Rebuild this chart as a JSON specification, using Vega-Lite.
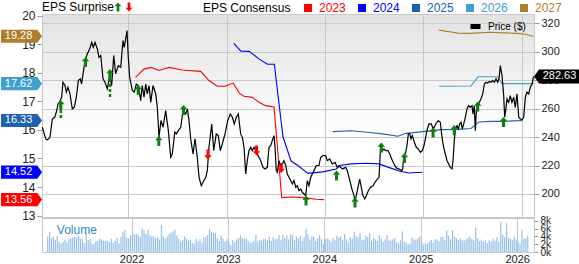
{
"$schema": "https://vega.github.io/schema/vega-lite/v6.json",
"padding": {"top": 2, "left": 0, "right": 0, "bottom": 0},
"autosize": {"type": "pad"},
"bounds": "flush",
"spacing": 1,
"config": {
  "font": "Liberation Sans",
  "view": {"stroke": "#c8c8c8"},
  "axis": {"gridColor": "#c8c8c8", "tickColor": "#9a9a9a", "labelColor": "#222222", "domain": false, "labelOverlap": false, "labelFlush": false, "labelBound": false}
},
"datasets": {
"price": [
{"t":2021.126,"p":246.9},{"t":2021.161,"p":238.7},{"t":2021.177,"p":238.0},{"t":2021.204,"p":239.8},{"t":2021.228,"p":252.7},{"t":2021.252,"p":253.9},{"t":2021.268,"p":257.4},{"t":2021.286,"p":263.3},{"t":2021.306,"p":265.1},{"t":2021.323,"p":268.0},{"t":2021.336,"p":278.5},{"t":2021.357,"p":276.2},{"t":2021.370,"p":271.5},{"t":2021.387,"p":275.0},{"t":2021.407,"p":270.3},{"t":2021.431,"p":259.8},{"t":2021.451,"p":260.9},{"t":2021.472,"p":268.0},{"t":2021.492,"p":279.7},{"t":2021.512,"p":280.9},{"t":2021.526,"p":277.3},{"t":2021.540,"p":284.4},{"t":2021.560,"p":293.7},{"t":2021.583,"p":298.4},{"t":2021.608,"p":302.0},{"t":2021.628,"p":306.6},{"t":2021.644,"p":303.1},{"t":2021.662,"p":306.6},{"t":2021.685,"p":302.0},{"t":2021.702,"p":296.1},{"t":2021.720,"p":297.3},{"t":2021.743,"p":280.9},{"t":2021.763,"p":278.5},{"t":2021.787,"p":273.8},{"t":2021.811,"p":283.2},{"t":2021.831,"p":276.2},{"t":2021.852,"p":297.3},{"t":2021.872,"p":284.4},{"t":2021.898,"p":290.2},{"t":2021.923,"p":289.1},{"t":2021.946,"p":307.8},{"t":2021.959,"p":303.1},{"t":2021.987,"p":314.8},{"t":2022.000,"p":296.1},{"t":2022.014,"p":282.0},{"t":2022.041,"p":272.7},{"t":2022.061,"p":271.5},{"t":2022.081,"p":277.3},{"t":2022.102,"p":276.2},{"t":2022.126,"p":265.6},{"t":2022.142,"p":276.2},{"t":2022.160,"p":268.0},{"t":2022.177,"p":277.3},{"t":2022.193,"p":270.3},{"t":2022.210,"p":276.2},{"t":2022.228,"p":264.4},{"t":2022.251,"p":276.2},{"t":2022.279,"p":270.3},{"t":2022.295,"p":260.9},{"t":2022.312,"p":239.8},{"t":2022.332,"p":251.6},{"t":2022.353,"p":246.9},{"t":2022.380,"p":258.6},{"t":2022.407,"p":244.5},{"t":2022.431,"p":225.8},{"t":2022.447,"p":228.1},{"t":2022.472,"p":243.4},{"t":2022.488,"p":242.2},{"t":2022.508,"p":244.5},{"t":2022.533,"p":246.9},{"t":2022.556,"p":258.6},{"t":2022.583,"p":256.2},{"t":2022.600,"p":259.8},{"t":2022.617,"p":251.6},{"t":2022.634,"p":238.7},{"t":2022.658,"p":228.1},{"t":2022.678,"p":238.7},{"t":2022.701,"p":225.8},{"t":2022.719,"p":211.7},{"t":2022.742,"p":205.8},{"t":2022.769,"p":209.4},{"t":2022.787,"p":211.7},{"t":2022.803,"p":216.4},{"t":2022.820,"p":232.8},{"t":2022.848,"p":249.2},{"t":2022.868,"p":230.5},{"t":2022.894,"p":242.2},{"t":2022.915,"p":241.0},{"t":2022.935,"p":230.5},{"t":2022.955,"p":235.1},{"t":2022.983,"p":242.2},{"t":2023.010,"p":251.6},{"t":2023.037,"p":256.2},{"t":2023.057,"p":253.9},{"t":2023.077,"p":249.2},{"t":2023.098,"p":253.9},{"t":2023.118,"p":256.2},{"t":2023.142,"p":242.2},{"t":2023.159,"p":239.8},{"t":2023.176,"p":232.8},{"t":2023.193,"p":214.0},{"t":2023.209,"p":223.4},{"t":2023.227,"p":230.5},{"t":2023.244,"p":232.8},{"t":2023.260,"p":230.5},{"t":2023.278,"p":232.8},{"t":2023.311,"p":228.1},{"t":2023.346,"p":223.4},{"t":2023.369,"p":218.7},{"t":2023.389,"p":217.6},{"t":2023.413,"p":218.7},{"t":2023.430,"p":232.8},{"t":2023.447,"p":234.0},{"t":2023.463,"p":237.5},{"t":2023.481,"p":241.0},{"t":2023.491,"p":232.8},{"t":2023.504,"p":216.4},{"t":2023.514,"p":215.2},{"t":2023.532,"p":223.4},{"t":2023.549,"p":218.7},{"t":2023.565,"p":221.1},{"t":2023.582,"p":223.4},{"t":2023.600,"p":220.0},{"t":2023.616,"p":214.0},{"t":2023.633,"p":211.7},{"t":2023.650,"p":209.4},{"t":2023.667,"p":207.0},{"t":2023.684,"p":209.4},{"t":2023.701,"p":204.7},{"t":2023.718,"p":205.8},{"t":2023.735,"p":202.3},{"t":2023.752,"p":203.5},{"t":2023.768,"p":201.2},{"t":2023.786,"p":200.0},{"t":2023.803,"p":198.8},{"t":2023.819,"p":209.4},{"t":2023.836,"p":205.8},{"t":2023.854,"p":211.7},{"t":2023.887,"p":216.4},{"t":2023.911,"p":220.0},{"t":2023.938,"p":220.0},{"t":2023.955,"p":225.8},{"t":2023.979,"p":226.9},{"t":2024.006,"p":226.9},{"t":2024.022,"p":223.4},{"t":2024.047,"p":224.6},{"t":2024.073,"p":221.1},{"t":2024.101,"p":222.2},{"t":2024.124,"p":218.7},{"t":2024.141,"p":220.0},{"t":2024.175,"p":217.6},{"t":2024.209,"p":218.7},{"t":2024.226,"p":216.4},{"t":2024.243,"p":211.7},{"t":2024.260,"p":207.0},{"t":2024.277,"p":202.3},{"t":2024.294,"p":198.8},{"t":2024.304,"p":195.3},{"t":2024.317,"p":198.8},{"t":2024.334,"p":204.7},{"t":2024.352,"p":210.5},{"t":2024.368,"p":204.7},{"t":2024.385,"p":198.8},{"t":2024.403,"p":196.5},{"t":2024.419,"p":198.8},{"t":2024.439,"p":202.3},{"t":2024.463,"p":204.7},{"t":2024.487,"p":205.8},{"t":2024.507,"p":208.2},{"t":2024.531,"p":210.5},{"t":2024.548,"p":211.7},{"t":2024.565,"p":234.0},{"t":2024.581,"p":230.5},{"t":2024.599,"p":231.6},{"t":2024.616,"p":230.5},{"t":2024.639,"p":230.5},{"t":2024.657,"p":228.1},{"t":2024.677,"p":224.6},{"t":2024.700,"p":221.1},{"t":2024.724,"p":218.3},{"t":2024.751,"p":217.6},{"t":2024.779,"p":216.4},{"t":2024.789,"p":217.6},{"t":2024.799,"p":226.9},{"t":2024.819,"p":229.3},{"t":2024.832,"p":234.0},{"t":2024.846,"p":242.2},{"t":2024.860,"p":242.2},{"t":2024.873,"p":238.7},{"t":2024.886,"p":241.0},{"t":2024.907,"p":236.3},{"t":2024.927,"p":232.8},{"t":2024.947,"p":231.6},{"t":2024.968,"p":229.3},{"t":2024.988,"p":230.5},{"t":2025.005,"p":234.0},{"t":2025.022,"p":239.8},{"t":2025.039,"p":245.7},{"t":2025.056,"p":249.2},{"t":2025.079,"p":249.2},{"t":2025.100,"p":245.7},{"t":2025.124,"p":249.2},{"t":2025.150,"p":251.6},{"t":2025.171,"p":250.4},{"t":2025.188,"p":239.8},{"t":2025.205,"p":232.8},{"t":2025.222,"p":228.1},{"t":2025.239,"p":223.4},{"t":2025.256,"p":221.1},{"t":2025.272,"p":218.7},{"t":2025.290,"p":217.6},{"t":2025.300,"p":223.4},{"t":2025.313,"p":237.5},{"t":2025.323,"p":245.7},{"t":2025.341,"p":248.0},{"t":2025.354,"p":245.7},{"t":2025.368,"p":249.2},{"t":2025.381,"p":250.4},{"t":2025.394,"p":245.7},{"t":2025.409,"p":249.2},{"t":2025.425,"p":253.9},{"t":2025.442,"p":259.8},{"t":2025.459,"p":262.1},{"t":2025.476,"p":260.9},{"t":2025.493,"p":262.1},{"t":2025.503,"p":256.2},{"t":2025.516,"p":262.1},{"t":2025.527,"p":244.5},{"t":2025.537,"p":258.6},{"t":2025.551,"p":262.1},{"t":2025.567,"p":264.4},{"t":2025.584,"p":266.8},{"t":2025.602,"p":270.3},{"t":2025.618,"p":277.3},{"t":2025.635,"p":278.5},{"t":2025.652,"p":278.0},{"t":2025.669,"p":279.0},{"t":2025.686,"p":278.5},{"t":2025.703,"p":279.7},{"t":2025.720,"p":278.5},{"t":2025.737,"p":280.9},{"t":2025.754,"p":278.5},{"t":2025.767,"p":280.9},{"t":2025.781,"p":290.2},{"t":2025.798,"p":283.2},{"t":2025.815,"p":269.1},{"t":2025.825,"p":253.9},{"t":2025.835,"p":258.6},{"t":2025.849,"p":266.8},{"t":2025.866,"p":264.4},{"t":2025.882,"p":269.1},{"t":2025.899,"p":264.4},{"t":2025.917,"p":268.0},{"t":2025.933,"p":260.9},{"t":2025.950,"p":270.3},{"t":2025.968,"p":253.9},{"t":2025.984,"p":252.7},{"t":2026.001,"p":252.0},{"t":2026.018,"p":253.9},{"t":2026.035,"p":268.0},{"t":2026.052,"p":271.5},{"t":2026.069,"p":270.3},{"t":2026.085,"p":275.0},{"t":2026.103,"p":277.3},{"t":2026.118,"p":282.63}
],
"cons": [
{"yr":"2023","t":2022.073,"e":17.84},{"yr":"2023","t":2022.160,"e":18.13},{"yr":"2023","t":2022.231,"e":18.19},{"yr":"2023","t":2022.312,"e":18.08},{"yr":"2023","t":2022.414,"e":18.19},{"yr":"2023","t":2022.549,"e":18.10},{"yr":"2023","t":2022.736,"e":18.05},{"yr":"2023","t":2022.820,"e":17.73},{"yr":"2023","t":2022.905,"e":17.53},{"yr":"2023","t":2022.983,"e":17.53},{"yr":"2023","t":2023.067,"e":17.64},{"yr":"2023","t":2023.130,"e":17.28},{"yr":"2023","t":2023.176,"e":17.18},{"yr":"2023","t":2023.260,"e":17.14},{"yr":"2023","t":2023.328,"e":16.97},{"yr":"2023","t":2023.396,"e":16.85},{"yr":"2023","t":2023.481,"e":16.80},{"yr":"2023","t":2023.559,"e":13.63},{"yr":"2023","t":2023.667,"e":13.65},{"yr":"2023","t":2023.803,"e":13.62},{"yr":"2023","t":2023.908,"e":13.57},{"yr":"2023","t":2023.989,"e":13.56},
{"yr":"2024","t":2023.071,"e":19.03},{"yr":"2024","t":2023.145,"e":18.76},{"yr":"2024","t":2023.230,"e":18.75},{"yr":"2024","t":2023.331,"e":18.48},{"yr":"2024","t":2023.415,"e":18.30},{"yr":"2024","t":2023.484,"e":18.30},{"yr":"2024","t":2023.572,"e":15.76},{"yr":"2024","t":2023.654,"e":14.91},{"yr":"2024","t":2023.720,"e":14.76},{"yr":"2024","t":2023.826,"e":14.48},{"yr":"2024","t":2023.979,"e":14.53},{"yr":"2024","t":2024.111,"e":14.63},{"yr":"2024","t":2024.162,"e":14.76},{"yr":"2024","t":2024.263,"e":14.81},{"yr":"2024","t":2024.416,"e":14.83},{"yr":"2024","t":2024.548,"e":14.81},{"yr":"2024","t":2024.660,"e":14.67},{"yr":"2024","t":2024.761,"e":14.55},{"yr":"2024","t":2024.853,"e":14.49},{"yr":"2024","t":2024.990,"e":14.52},
{"yr":"2025","t":2024.077,"e":15.94},{"yr":"2025","t":2024.263,"e":15.97},{"yr":"2025","t":2024.433,"e":15.92},{"yr":"2025","t":2024.585,"e":15.86},{"yr":"2025","t":2024.741,"e":15.78},{"yr":"2025","t":2024.822,"e":15.88},{"yr":"2025","t":2024.995,"e":15.94},{"yr":"2025","t":2025.178,"e":16.01},{"yr":"2025","t":2025.348,"e":16.02},{"yr":"2025","t":2025.483,"e":16.05},{"yr":"2025","t":2025.544,"e":16.22},{"yr":"2025","t":2025.564,"e":16.28},{"yr":"2025","t":2025.686,"e":16.30},{"yr":"2025","t":2025.818,"e":16.30},{"yr":"2025","t":2026.001,"e":16.33},
{"yr":"2026","t":2025.158,"e":17.53},{"yr":"2026","t":2025.483,"e":17.54},{"yr":"2026","t":2025.554,"e":17.86},{"yr":"2026","t":2025.752,"e":17.86},{"yr":"2026","t":2025.798,"e":17.62},{"yr":"2026","t":2026.118,"e":17.62},
{"yr":"2027","t":2025.153,"e":19.50},{"yr":"2027","t":2025.208,"e":19.47},{"yr":"2027","t":2025.280,"e":19.43},{"yr":"2027","t":2025.351,"e":19.39},{"yr":"2027","t":2025.483,"e":19.38},{"yr":"2027","t":2025.666,"e":19.42},{"yr":"2027","t":2025.838,"e":19.40},{"yr":"2027","t":2025.950,"e":19.38},{"yr":"2027","t":2026.032,"e":19.35},{"yr":"2027","t":2026.093,"e":19.30},{"yr":"2027","t":2026.118,"e":19.28}
],
"surp": [
{"t":2021.314,"p":262.6,"dir":"up","p2":252.3},{"t":2021.565,"p":292.8,"dir":"up"},{"t":2021.814,"p":284.4,"dir":"up","p2":266.6},{"t":2022.101,"p":273.1,"dir":"up"},{"t":2022.310,"p":237.3,"dir":"up"},{"t":2022.561,"p":259.1,"dir":"up"},{"t":2022.810,"p":227.8,"dir":"down"},{"t":2023.303,"p":230.6,"dir":"down"},{"t":2023.554,"p":218.3,"dir":"down"},{"t":2023.806,"p":195.4,"dir":"up"},{"t":2024.116,"p":213.0,"dir":"up"},{"t":2024.304,"p":194.0,"dir":"up"},{"t":2024.571,"p":232.7,"dir":"up"},{"t":2024.807,"p":225.3,"dir":"up"},{"t":2025.097,"p":243.2,"dir":"up"},{"t":2025.313,"p":245.0,"dir":"up"},{"t":2025.551,"p":261.5,"dir":"up"},{"t":2025.813,"p":250.6,"dir":"up"}
],
"tags": [
{"yr":"2027","e":19.28},{"yr":"2026","e":17.62},{"yr":"2025","e":16.33},{"yr":"2024","e":14.52},{"yr":"2023","e":13.56}
],
"last": [{"p":282.63}],
"vol": [
{"t":2021.13,"v":4000},{"t":2021.15,"v":5200},{"t":2021.17,"v":3600},{"t":2021.19,"v":4000},{"t":2021.21,"v":3000},{"t":2021.23,"v":4100},{"t":2021.25,"v":2500},{"t":2021.27,"v":2200},{"t":2021.29,"v":2600},{"t":2021.31,"v":3200},{"t":2021.33,"v":2400},{"t":2021.35,"v":3300},{"t":2021.37,"v":3600},{"t":2021.39,"v":3800},{"t":2021.41,"v":3900},{"t":2021.43,"v":3700},{"t":2021.45,"v":4200},{"t":2021.47,"v":3400},{"t":2021.49,"v":3200},{"t":2021.51,"v":2300},{"t":2021.53,"v":5000},{"t":2021.55,"v":3100},{"t":2021.57,"v":3300},{"t":2021.59,"v":2100},{"t":2021.61,"v":2000},{"t":2021.63,"v":2700},{"t":2021.65,"v":2800},{"t":2021.67,"v":3500},{"t":2021.69,"v":3200},{"t":2021.71,"v":2900},{"t":2021.73,"v":2800},{"t":2021.75,"v":3000},{"t":2021.77,"v":2600},{"t":2021.79,"v":3400},{"t":2021.81,"v":2300},{"t":2021.83,"v":2900},{"t":2021.85,"v":3600},{"t":2021.87,"v":2200},{"t":2021.89,"v":3900},{"t":2021.91,"v":5100},{"t":2021.93,"v":5600},{"t":2021.95,"v":3600},{"t":2021.97,"v":3500},{"t":2021.99,"v":4300},
{"t":2022.01,"v":4800},{"t":2022.03,"v":4500},{"t":2022.05,"v":4700},{"t":2022.07,"v":4400},{"t":2022.09,"v":3800},{"t":2022.11,"v":6100},{"t":2022.13,"v":5600},{"t":2022.15,"v":4600},{"t":2022.17,"v":5800},{"t":2022.19,"v":4300},{"t":2022.21,"v":4000},{"t":2022.23,"v":4100},{"t":2022.25,"v":3600},{"t":2022.27,"v":3800},{"t":2022.29,"v":3200},{"t":2022.31,"v":7000},{"t":2022.33,"v":4000},{"t":2022.35,"v":3500},{"t":2022.37,"v":3900},{"t":2022.39,"v":4600},{"t":2022.41,"v":5000},{"t":2022.43,"v":5300},{"t":2022.45,"v":5800},{"t":2022.47,"v":4200},{"t":2022.49,"v":3300},{"t":2022.51,"v":2600},{"t":2022.53,"v":3000},{"t":2022.55,"v":4000},{"t":2022.57,"v":3500},{"t":2022.59,"v":2900},{"t":2022.61,"v":3200},{"t":2022.63,"v":2300},{"t":2022.65,"v":2100},{"t":2022.67,"v":3400},{"t":2022.69,"v":2700},{"t":2022.71,"v":3300},{"t":2022.73,"v":2400},{"t":2022.75,"v":3700},{"t":2022.77,"v":3900},{"t":2022.79,"v":4400},{"t":2022.81,"v":6000},{"t":2022.83,"v":5100},{"t":2022.85,"v":4900},{"t":2022.87,"v":4800},{"t":2022.89,"v":3600},{"t":2022.91,"v":2800},{"t":2022.93,"v":4200},{"t":2022.95,"v":3400},{"t":2022.97,"v":2700},{"t":2022.99,"v":3300},
{"t":2023.01,"v":2600},{"t":2023.03,"v":1800},{"t":2023.05,"v":3000},{"t":2023.07,"v":2500},{"t":2023.09,"v":3200},{"t":2023.11,"v":3600},{"t":2023.13,"v":4300},{"t":2023.15,"v":3600},{"t":2023.17,"v":3400},{"t":2023.19,"v":3500},{"t":2023.21,"v":2800},{"t":2023.23,"v":2400},{"t":2023.25,"v":2500},{"t":2023.27,"v":2900},{"t":2023.29,"v":4500},{"t":2023.31,"v":2700},{"t":2023.33,"v":3100},{"t":2023.35,"v":3000},{"t":2023.37,"v":3300},{"t":2023.39,"v":3400},{"t":2023.41,"v":3000},{"t":2023.43,"v":4000},{"t":2023.45,"v":2800},{"t":2023.47,"v":3700},{"t":2023.49,"v":3300},{"t":2023.51,"v":3400},{"t":2023.53,"v":4400},{"t":2023.55,"v":3000},{"t":2023.57,"v":4500},{"t":2023.59,"v":3600},{"t":2023.61,"v":4300},{"t":2023.63,"v":3200},{"t":2023.65,"v":4600},{"t":2023.67,"v":4400},{"t":2023.69,"v":3000},{"t":2023.71,"v":3900},{"t":2023.73,"v":3600},{"t":2023.75,"v":4100},{"t":2023.77,"v":2800},{"t":2023.79,"v":3700},{"t":2023.81,"v":6000},{"t":2023.83,"v":4600},{"t":2023.85,"v":3200},{"t":2023.87,"v":4000},{"t":2023.89,"v":3900},{"t":2023.91,"v":2900},{"t":2023.93,"v":3500},{"t":2023.95,"v":4300},{"t":2023.97,"v":3300},{"t":2023.99,"v":2200},
{"t":2024.01,"v":3400},{"t":2024.03,"v":3500},{"t":2024.05,"v":3300},{"t":2024.07,"v":2600},{"t":2024.09,"v":3600},{"t":2024.11,"v":3000},{"t":2024.13,"v":4200},{"t":2024.15,"v":3700},{"t":2024.17,"v":4000},{"t":2024.19,"v":3100},{"t":2024.21,"v":4600},{"t":2024.23,"v":3200},{"t":2024.25,"v":2500},{"t":2024.27,"v":3900},{"t":2024.29,"v":3500},{"t":2024.31,"v":5300},{"t":2024.33,"v":4100},{"t":2024.35,"v":3800},{"t":2024.37,"v":4800},{"t":2024.39,"v":3000},{"t":2024.41,"v":3200},{"t":2024.43,"v":4200},{"t":2024.45,"v":3900},{"t":2024.47,"v":4800},{"t":2024.49,"v":2900},{"t":2024.51,"v":3700},{"t":2024.53,"v":3300},{"t":2024.55,"v":2800},{"t":2024.57,"v":4400},{"t":2024.59,"v":3500},{"t":2024.61,"v":2600},{"t":2024.63,"v":3200},{"t":2024.65,"v":4300},{"t":2024.67,"v":3000},{"t":2024.69,"v":2900},{"t":2024.71,"v":3300},{"t":2024.73,"v":3600},{"t":2024.75,"v":2500},{"t":2024.77,"v":2200},{"t":2024.79,"v":3000},{"t":2024.81,"v":5300},{"t":2024.83,"v":2600},{"t":2024.85,"v":2400},{"t":2024.87,"v":1900},{"t":2024.89,"v":2200},{"t":2024.91,"v":3700},{"t":2024.93,"v":3200},{"t":2024.95,"v":3100},{"t":2024.97,"v":3600},{"t":2024.99,"v":4000},
{"t":2025.01,"v":2500},{"t":2025.03,"v":1900},{"t":2025.05,"v":2200},{"t":2025.07,"v":2100},{"t":2025.09,"v":2700},{"t":2025.11,"v":3100},{"t":2025.13,"v":2400},{"t":2025.15,"v":3300},{"t":2025.17,"v":3200},{"t":2025.19,"v":2700},{"t":2025.21,"v":3800},{"t":2025.23,"v":4000},{"t":2025.25,"v":3000},{"t":2025.27,"v":5600},{"t":2025.29,"v":4200},{"t":2025.31,"v":3200},{"t":2025.33,"v":5600},{"t":2025.35,"v":4000},{"t":2025.37,"v":3600},{"t":2025.39,"v":3100},{"t":2025.41,"v":3500},{"t":2025.43,"v":3000},{"t":2025.45,"v":2900},{"t":2025.47,"v":3300},{"t":2025.49,"v":3600},{"t":2025.51,"v":4000},{"t":2025.53,"v":3400},{"t":2025.55,"v":3100},{"t":2025.57,"v":6300},{"t":2025.59,"v":3500},{"t":2025.61,"v":2800},{"t":2025.63,"v":3200},{"t":2025.65,"v":2600},{"t":2025.67,"v":3000},{"t":2025.69,"v":2300},{"t":2025.71,"v":3000},{"t":2025.73,"v":2700},{"t":2025.75,"v":3400},{"t":2025.77,"v":2900},{"t":2025.79,"v":3800},{"t":2025.81,"v":2600},{"t":2025.83,"v":7800},{"t":2025.85,"v":4500},{"t":2025.87,"v":3700},{"t":2025.89,"v":7400},{"t":2025.91,"v":3600},{"t":2025.93,"v":3400},{"t":2025.95,"v":3000},{"t":2025.97,"v":3900},{"t":2025.99,"v":3200},{"t":2026.01,"v":2500},{"t":2026.03,"v":2000},{"t":2026.05,"v":5700},{"t":2026.07,"v":3400},{"t":2026.09,"v":3600},{"t":2026.11,"v":4200}
]
},
"vconcat": [
{
  "width": 492,
  "height": 203,
  "view": {"stroke": "#c8c8c8", "fill": {"gradient": "linear", "x1": 0, "y1": 0, "x2": 0, "y2": 1, "stops": [{"offset": 0, "color": "#e2e2e2"}, {"offset": 0.6, "color": "#ffffff"}, {"offset": 1, "color": "#ffffff"}]}},
  "resolve": {"scale": {"y": "independent"}},
  "layer": [
    {
      "layer": [
        {
          "data": {"name": "cons"},
          "mark": {"type": "line", "strokeWidth": 1.1},
          "encoding": {
            "x": {"field": "t", "type": "quantitative", "scale": {"domain": [2021.123, 2026.123], "nice": false, "zero": false},
                  "axis": {"values": [2022, 2023, 2024, 2025, 2026], "labels": false, "ticks": false, "grid": true, "title": null}},
            "y": {"field": "e", "type": "quantitative", "scale": {"domain": [12.95, 20.06], "nice": false, "zero": false},
                  "axis": {"orient": "left", "values": [13, 14, 15, 16, 17, 18, 19, 20], "tickSize": 5, "labelFontSize": 12, "labelPadding": 2, "grid": false, "title": null, "labelOverlap": false}},
            "color": {"field": "yr", "type": "nominal",
                      "scale": {"domain": ["2023", "2024", "2025", "2026", "2027"], "range": ["#ff0000", "#0000ff", "#2060b0", "#40a0d0", "#b07d2b"]},
                      "legend": {"orient": "none", "legendX": 161, "legendY": -12, "direction": "horizontal", "title": "EPS Consensus", "titleOrient": "left", "titlePadding": 11, "titleFontSize": 12, "titleFontWeight": "normal", "titleColor": "#000000", "labelFontSize": 12, "labelOffset": 5, "columnPadding": 10, "symbolType": "square", "symbolSize": 64, "symbolStrokeWidth": 0,
                                 "encode": {"symbols": {"update": {"fill": {"signal": "datum.value=='2023'?'#ff0000':datum.value=='2024'?'#0000ff':datum.value=='2025'?'#2060b0':datum.value=='2026'?'#40a0d0':'#b07d2b'"}, "stroke": {"value": "transparent"}}},
                                            "labels": {"update": {"fill": {"signal": "datum.value=='2023'?'#ff0000':datum.value=='2024'?'#0000ff':datum.value=='2025'?'#2060b0':datum.value=='2026'?'#40a0d0':'#b07d2b'"}}}}}}
          }
        },
        {
          "data": {"name": "tags"},
          "mark": {"type": "point", "filled": true, "opacity": 1, "size": 1681, "shape": "M1,0L0.77,-0.32L-1,-0.32L-1,0.32L0.77,0.32Z", "strokeWidth": 0},
          "encoding": {
            "x": {"datum": 2020.915, "type": "quantitative", "scale": {"domain": [2021.123, 2026.123], "nice": false, "zero": false},
                  "axis": {"values": [2022, 2023, 2024, 2025, 2026], "labels": false, "ticks": false, "grid": true, "title": null}},
            "y": {"field": "e", "type": "quantitative", "scale": {"domain": [12.95, 20.06], "nice": false, "zero": false},
                  "axis": {"orient": "left", "values": [13, 14, 15, 16, 17, 18, 19, 20], "tickSize": 5, "labelFontSize": 12, "labelPadding": 2, "grid": false, "title": null, "labelOverlap": false}},
            "color": {"field": "yr", "type": "nominal", "scale": {"domain": ["2023", "2024", "2025", "2026", "2027"], "range": ["#ff0000", "#0000ff", "#2060b0", "#40a0d0", "#b07d2b"]}, "legend": null}
          }
        },
        {
          "data": {"name": "tags"},
          "mark": {"type": "text", "color": "#ffffff", "fontSize": 11, "dx": -3, "align": "center", "baseline": "middle"},
          "encoding": {
            "x": {"datum": 2020.915, "type": "quantitative", "scale": {"domain": [2021.123, 2026.123], "nice": false, "zero": false},
                  "axis": {"values": [2022, 2023, 2024, 2025, 2026], "labels": false, "ticks": false, "grid": true, "title": null}},
            "y": {"field": "e", "type": "quantitative", "scale": {"domain": [12.95, 20.06], "nice": false, "zero": false},
                  "axis": {"orient": "left", "values": [13, 14, 15, 16, 17, 18, 19, 20], "tickSize": 5, "labelFontSize": 12, "labelPadding": 2, "grid": false, "title": null, "labelOverlap": false}},
            "text": {"field": "e", "type": "quantitative", "format": ".2f"}
          }
        }
      ]
    },
    {
      "layer": [
        {
          "data": {"name": "price"},
          "mark": {"type": "line", "strokeWidth": 1.2},
          "encoding": {
            "x": {"field": "t", "type": "quantitative", "scale": {"domain": [2021.123, 2026.123], "nice": false, "zero": false},
                  "axis": {"values": [2022, 2023, 2024, 2025, 2026], "labels": false, "ticks": false, "grid": true, "title": null}},
            "y": {"field": "p", "type": "quantitative", "scale": {"domain": [183.8, 326.5], "nice": false, "zero": false},
                  "axis": {"orient": "right", "values": [200, 220, 240, 260, 280, 300, 320], "tickSize": 5, "labelFontSize": 11, "labelPadding": 2, "grid": true, "title": null, "labelOverlap": false}},
            "stroke": {"datum": "Price ($)", "type": "nominal", "scale": {"domain": ["Price ($)"], "range": ["#000000"]},
                       "legend": {"orient": "none", "legendX": 426, "legendY": 5, "title": null, "symbolType": "stroke", "symbolStrokeWidth": 5, "symbolSize": 100, "labelFontSize": 10, "labelOffset": 5, "labelColor": "#000000"}}
          }
        },
        {
          "data": {"name": "surp"},
          "transform": [{"filter": "isValid(datum.p2)"}],
          "mark": {"type": "rule", "color": "#0b800b", "strokeWidth": 2.5, "strokeDash": [3, 2]},
          "encoding": {
            "x": {"field": "t", "type": "quantitative", "scale": {"domain": [2021.123, 2026.123], "nice": false, "zero": false},
                  "axis": {"values": [2022, 2023, 2024, 2025, 2026], "labels": false, "ticks": false, "grid": true, "title": null}},
            "y": {"field": "p", "type": "quantitative", "scale": {"domain": [183.8, 326.5], "nice": false, "zero": false},
                  "axis": {"orient": "right", "values": [200, 220, 240, 260, 280, 300, 320], "tickSize": 5, "labelFontSize": 11, "labelPadding": 2, "grid": true, "title": null, "labelOverlap": false}},
            "y2": {"field": "p2"}
          }
        },
        {
          "data": {"name": "surp"},
          "mark": {"type": "point", "filled": true, "opacity": 1, "size": 100, "strokeWidth": 0},
          "encoding": {
            "x": {"field": "t", "type": "quantitative", "scale": {"domain": [2021.123, 2026.123], "nice": false, "zero": false},
                  "axis": {"values": [2022, 2023, 2024, 2025, 2026], "labels": false, "ticks": false, "grid": true, "title": null}},
            "y": {"field": "p", "type": "quantitative", "scale": {"domain": [183.8, 326.5], "nice": false, "zero": false},
                  "axis": {"orient": "right", "values": [200, 220, 240, 260, 280, 300, 320], "tickSize": 5, "labelFontSize": 11, "labelPadding": 2, "grid": true, "title": null, "labelOverlap": false}},
            "shape": {"field": "dir", "type": "nominal",
                      "scale": {"domain": ["up", "down"], "range": ["M0,-1L0.75,-0.15L0.3,-0.15L0.3,1L-0.3,1L-0.3,-0.15L-0.75,-0.15Z", "M0,1L0.75,0.15L0.3,0.15L0.3,-1L-0.3,-1L-0.3,0.15L-0.75,0.15Z"]},
                      "legend": {"orient": "none", "legendX": 0, "legendY": -12, "direction": "horizontal", "title": "EPS Surprise", "titleOrient": "left", "titlePadding": -2, "titleFontSize": 12, "titleFontWeight": "normal", "titleColor": "#000000", "labelExpr": "''", "labelOffset": 0, "columnPadding": 1, "symbolSize": 81, "symbolStrokeWidth": 0}},
            "fill": {"field": "dir", "type": "nominal",
                     "scale": {"domain": ["up", "down"], "range": ["#0b800b", "#ff0000"]},
                     "legend": {"orient": "none", "legendX": 0, "legendY": -12, "direction": "horizontal", "title": "EPS Surprise", "titleOrient": "left", "titlePadding": -2, "titleFontSize": 12, "titleFontWeight": "normal", "titleColor": "#000000", "labelExpr": "''", "labelOffset": 0, "columnPadding": 1, "symbolSize": 81, "symbolStrokeWidth": 0}}
          }
        },
        {
          "data": {"name": "last"},
          "mark": {"type": "point", "filled": true, "opacity": 1, "size": 2025, "shape": "M-1,0L-0.78,-0.31L1,-0.31L1,0.31L-0.78,0.31Z", "color": "#000000", "strokeWidth": 0},
          "encoding": {
            "x": {"datum": 2026.352, "type": "quantitative", "scale": {"domain": [2021.123, 2026.123], "nice": false, "zero": false},
                  "axis": {"values": [2022, 2023, 2024, 2025, 2026], "labels": false, "ticks": false, "grid": true, "title": null}},
            "y": {"field": "p", "type": "quantitative", "scale": {"domain": [183.8, 326.5], "nice": false, "zero": false},
                  "axis": {"orient": "right", "values": [200, 220, 240, 260, 280, 300, 320], "tickSize": 5, "labelFontSize": 11, "labelPadding": 2, "grid": true, "title": null, "labelOverlap": false}}
          }
        },
        {
          "data": {"name": "last"},
          "mark": {"type": "text", "color": "#ffffff", "fontSize": 11, "dx": 3, "align": "center", "baseline": "middle"},
          "encoding": {
            "x": {"datum": 2026.352, "type": "quantitative", "scale": {"domain": [2021.123, 2026.123], "nice": false, "zero": false},
                  "axis": {"values": [2022, 2023, 2024, 2025, 2026], "labels": false, "ticks": false, "grid": true, "title": null}},
            "y": {"field": "p", "type": "quantitative", "scale": {"domain": [183.8, 326.5], "nice": false, "zero": false},
                  "axis": {"orient": "right", "values": [200, 220, 240, 260, 280, 300, 320], "tickSize": 5, "labelFontSize": 11, "labelPadding": 2, "grid": true, "title": null, "labelOverlap": false}},
            "text": {"field": "p", "type": "quantitative", "format": ".2f"}
          }
        }
      ]
    }
  ]
},
{
  "width": 492,
  "height": 34,
  "layer": [
    {
      "data": {"name": "vol"},
      "mark": {"type": "bar", "width": 1.2, "color": "#94bfe6"},
      "encoding": {
        "x": {"field": "t", "type": "quantitative", "scale": {"domain": [2021.123, 2026.123], "nice": false, "zero": false},
              "axis": {"values": [2022, 2023, 2024, 2025, 2026], "format": "d", "labelFontSize": 11, "ticks": false, "grid": true, "labelPadding": 1, "labelFlush": false, "title": null}},
        "y": {"field": "v", "type": "quantitative", "scale": {"domain": [0, 8750], "nice": false},
              "axis": {"orient": "right", "values": [0, 2000, 4000, 6000, 8000], "format": "~s", "tickSize": 4, "labelFontSize": 10, "labelPadding": 2, "grid": false, "title": null, "labelOverlap": false, "labelFlush": false}}
      }
    },
    {
      "data": {"values": [{}]},
      "mark": {"type": "text", "text": "Volume", "color": "#3388cc", "fontSize": 12, "align": "left", "baseline": "middle"},
      "encoding": {
        "x": {"datum": 2021.225, "type": "quantitative", "scale": {"domain": [2021.123, 2026.123], "nice": false, "zero": false},
              "axis": {"values": [2022, 2023, 2024, 2025, 2026], "format": "d", "labelFontSize": 11, "ticks": false, "grid": true, "labelPadding": 1, "labelFlush": false, "title": null}},
        "y": {"datum": 5600, "type": "quantitative", "scale": {"domain": [0, 8750], "nice": false},
              "axis": {"orient": "right", "values": [0, 2000, 4000, 6000, 8000], "format": "~s", "tickSize": 4, "labelFontSize": 10, "labelPadding": 2, "grid": false, "title": null, "labelOverlap": false, "labelFlush": false}}
      }
    }
  ]
}
]
}
